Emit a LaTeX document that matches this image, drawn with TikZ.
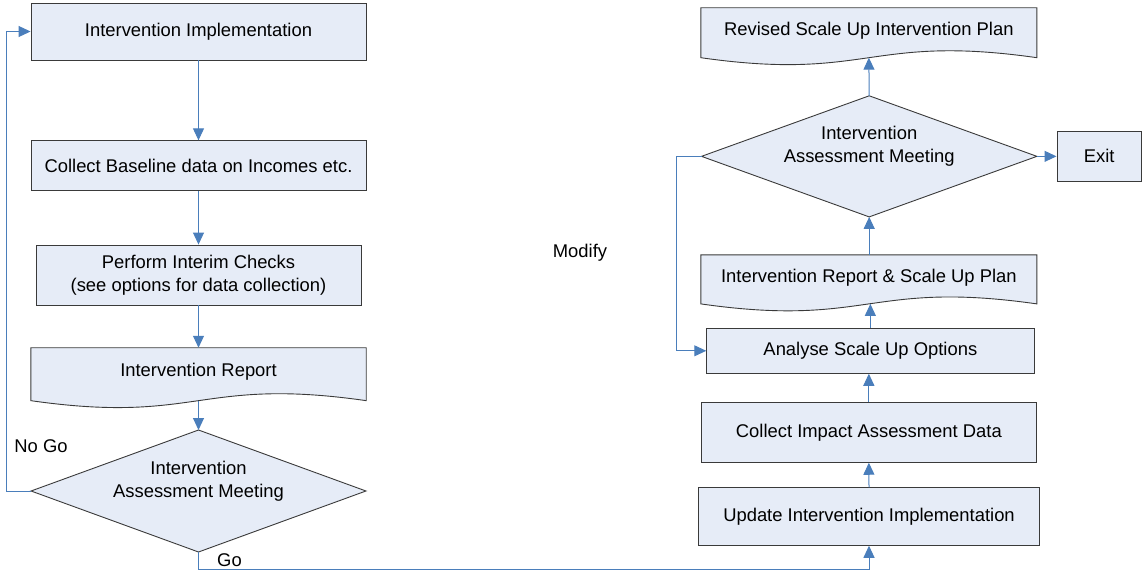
\documentclass[tikz,border=0pt]{standalone}
\usepackage{fontspec}
\setmainfont{Liberation Sans}
\usetikzlibrary{arrows.meta,calc}
\definecolor{boxfill}{HTML}{E6ECF7}
\definecolor{boxline}{HTML}{3A3A3A}
\definecolor{conncol}{HTML}{4A7EBB}
\begin{document}
\begin{tikzpicture}[x=1pt,y=-1pt,
  every node/.style={font=\fontsize{18.4pt}{22.5pt}\selectfont},
  box/.style={draw=boxline,fill=boxfill,line width=0.9pt,inner sep=0pt,align=center},
  geom/.style={inner sep=0pt},
  shapeline/.style={draw=boxline,fill=boxfill,line width=0.9pt},
  txt/.style={inner sep=0pt,align=center},
  conn/.style={draw=conncol,line width=1pt,-{Triangle[width=11pt,length=12pt]}},
  plain/.style={draw=conncol,line width=1pt}
]
\useasboundingbox (0,0) rectangle (1142,572);

% ---------- left column ----------
\node[box,minimum width=335pt,minimum height=57pt] (b1) at (198.5,31.5) {Intervention Implementation};
\node[box,minimum width=335pt,minimum height=50pt] (b2) at (198.5,165.8) {Collect Baseline data on Incomes etc.};
\node[box,minimum width=325pt,minimum height=60pt] (b3) at (198.5,275) {Perform Interim Checks\\(see options for data collection)};

\node[geom,minimum width=335pt,minimum height=52.5pt] (d1) at (198.5,374.2) {};
\path[shapeline] (d1.north west) -- (d1.north east) -- (d1.south east)
  .. controls ($(d1.south)+(0,-24)$) and ($(d1.south)+(0,24)$) .. (d1.south west) -- cycle;
\node[txt] at ([yshift=2pt]d1.center) {Intervention Report};

\node[geom,minimum width=334.5pt,minimum height=121.6pt] (dm1) at (198.5,491) {};
\path[shapeline] (dm1.north) -- (dm1.east) -- (dm1.south) -- (dm1.west) -- cycle;
\node[txt] at ([yshift=10pt]dm1.center) {Intervention\\Assessment Meeting};

% ---------- right column ----------
\node[geom,minimum width=335.7pt,minimum height=49.5pt] (d2) at (868.85,32.75) {};
\path[shapeline] (d2.north west) -- (d2.north east) -- (d2.south east)
  .. controls ($(d2.south)+(0,-24)$) and ($(d2.south)+(0,24)$) .. (d2.south west) -- cycle;
\node[txt] at ([yshift=2.5pt]d2.center) {Revised Scale Up Intervention Plan};

\node[geom,minimum width=335pt,minimum height=120.7pt] (dm2) at (869.2,156.35) {};
\path[shapeline] (dm2.north) -- (dm2.east) -- (dm2.south) -- (dm2.west) -- cycle;
\node[txt] at ([yshift=10pt]dm2.center) {Intervention\\Assessment Meeting};

\node[box,minimum width=84.5pt,minimum height=50.7pt] (ex) at (1099.2,156.35) {Exit};

\node[geom,minimum width=335.7pt,minimum height=48.7pt] (d3) at (868.85,279.35) {};
\path[shapeline] (d3.north west) -- (d3.north east) -- (d3.south east)
  .. controls ($(d3.south)+(0,-24)$) and ($(d3.south)+(0,24)$) .. (d3.south west) -- cycle;
\node[txt] at ([yshift=1.5pt]d3.center) {Intervention Report \& Scale Up Plan};

\node[box,minimum width=327.3pt,minimum height=45pt] (an) at (870.35,350.8) {Analyse Scale Up Options};
\node[box,minimum width=335.7pt,minimum height=59.6pt] (ci) at (868.85,432.5) {Collect Impact Assessment Data};
\node[box,minimum width=340.6pt,minimum height=57.6pt] (up) at (869,516.5) {Update Intervention Implementation};

% ---------- labels ----------
\node[txt] (lnogo) at (41,446) {No Go};
\node[txt] (lgo) at (229.5,560) {Go};
\node[txt] (lmod) at (580,253) {Modify};

% ---------- connectors ----------
\draw[conn] (b1.south) -- (b2.north);
\draw[conn] (b2.south) -- (b3.north);
\draw[conn] (b3.south) -- (d1.north);
\draw[conn] (d1.south) -- (dm1.north);
\coordinate (nogo) at (6,491);
\draw[conn] (dm1.west) -- (nogo) |- (b1.west);
\coordinate (goc) at (198.5,569);
\draw[conn] (dm1.south) -- (goc) -| (up.south);

\draw[conn] (up.north) -- (ci.south);
\draw[conn] (ci.north) -- (ci.north |- an.south);
\draw[conn] (an.north) -- (an.north |- d3.south);
\draw[conn] (dm2.south |- d3.north) -- (dm2.south);
\draw[conn] (dm2.north) -- (d2.south);
\draw[conn] (dm2.east) -- (ex.west);
\coordinate (modc) at (676.7,156.35);
\draw[conn] (dm2.west) -- (modc) |- (an.west);
\end{tikzpicture}
\end{document}
